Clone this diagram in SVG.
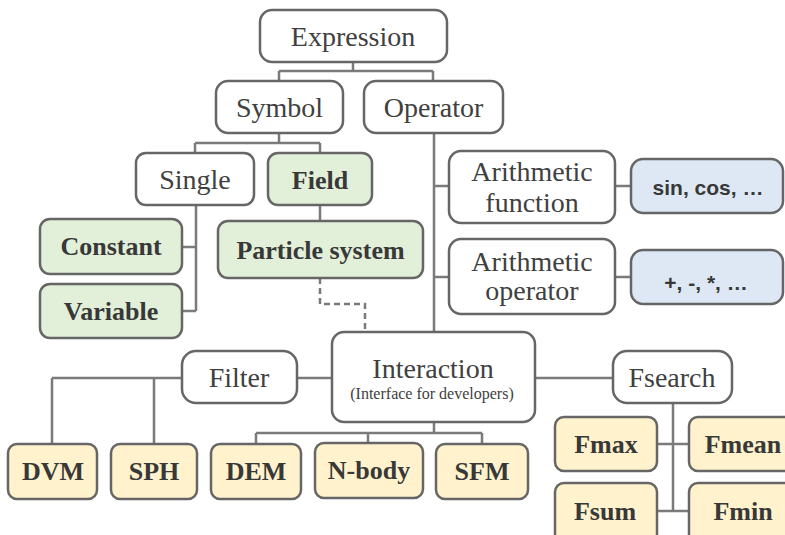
<svg xmlns="http://www.w3.org/2000/svg" width="785" height="535" viewBox="0 0 785 535">
<style>
.box{stroke:#666;stroke-width:2.5;}
.w{fill:#fff;}
.g{fill:#e2efd9;}
.y{fill:#fff2cc;}
.b{fill:#dde8f4;}
.t{font-family:"Liberation Serif","Times New Roman",serif;font-size:28px;fill:#404040;text-anchor:middle;}
.tb{font-family:"Liberation Serif","Times New Roman",serif;font-size:26px;font-weight:bold;fill:#383838;text-anchor:middle;}
.ts{font-family:"Liberation Sans",Arial,sans-serif;font-size:21px;font-weight:bold;fill:#383838;text-anchor:middle;}
.sub{font-family:"Liberation Serif","Times New Roman",serif;font-size:16px;fill:#404040;text-anchor:middle;}
.c{fill:none;stroke:#7a7a7a;stroke-width:2.5;}
.d{fill:none;stroke:#7a7a7a;stroke-width:2.5;stroke-dasharray:6 4;}
</style>
<rect width="785" height="535" fill="#fff"/>
<g id="connectors">
<path class="c" d="M353,62 V71 M279,71 H433 M279,71 V81 M433,71 V81"/>
<path class="c" d="M279,133 V143 M195,143 H320 M195,143 V153 M320,143 V153"/>
<path class="c" d="M196,205 V311 M182,247 H196 M182,311 H196"/>
<path class="c" d="M320,205 V221"/>
<path class="d" d="M320,278 V304 H365 V332"/>
<path class="c" d="M434,133 V332 M434,186 H449 M434,277 H449"/>
<path class="c" d="M615,186 H631 M615,277 H631"/>
<path class="c" d="M297,378 H332 M52,378 H182 M52,378 V444 M154,378 V444"/>
<path class="c" d="M434,422 V433 M256,433 H482 M256,433 V444 M368,433 V443 M482,433 V444"/>
<path class="c" d="M535,378 H613"/>
<path class="c" d="M673,403 V511 M657,444 H689 M657,511 H689"/>
</g>
<g id="expression"><rect class="box w" x="260" y="10" width="187" height="52" rx="12"/><text class="t" x="353" y="46">Expression</text></g>
<g id="symbol"><rect class="box w" x="216" y="81" width="127" height="52" rx="12"/><text class="t" x="279.5" y="117">Symbol</text></g>
<g id="operator"><rect class="box w" x="364" y="81" width="139" height="52" rx="12"/><text class="t" x="433.5" y="117">Operator</text></g>
<g id="single"><rect class="box w" x="136" y="153" width="118" height="52" rx="10"/><text class="t" x="195" y="189">Single</text></g>
<g id="field"><rect class="box g" x="268" y="153" width="104" height="52" rx="10"/><text class="tb" x="320" y="189">Field</text></g>
<g id="constant"><rect class="box g" x="40" y="219" width="142" height="55" rx="10"/><text class="tb" x="111" y="255">Constant</text></g>
<g id="variable"><rect class="box g" x="40" y="284" width="142" height="54" rx="10"/><text class="tb" x="111" y="320">Variable</text></g>
<g id="particle-system"><rect class="box g" x="218" y="221" width="205" height="57" rx="10"/><text class="tb" x="320.5" y="259">Particle system</text></g>
<g id="arith-function"><rect class="box w" x="449" y="151" width="166" height="72" rx="12"/><text class="t" x="532" y="181">Arithmetic</text><text class="t" x="532" y="212">function</text></g>
<g id="sin-cos"><rect class="box b" x="631" y="159" width="152" height="54" rx="12"/><text class="ts" x="708" y="195">sin, cos, …</text></g>
<g id="arith-operator"><rect class="box w" x="449" y="239" width="166" height="75" rx="12"/><text class="t" x="532" y="271">Arithmetic</text><text class="t" x="532" y="300">operator</text></g>
<g id="plus-minus"><rect class="box b" x="631" y="250" width="152" height="54" rx="12"/><text class="ts" x="706" y="290">+, -, *, …</text></g>
<g id="filter"><rect class="box w" x="182" y="351" width="115" height="52" rx="14"/><text class="t" x="239" y="387">Filter</text></g>
<g id="interaction"><rect class="box w" x="332" y="332" width="203" height="90" rx="12"/><text class="t" x="433" y="378">Interaction</text><text class="sub" x="432" y="399">(Interface for developers)</text></g>
<g id="fsearch"><rect class="box w" x="613" y="351" width="119" height="52" rx="14"/><text class="t" x="672" y="387">Fsearch</text></g>
<g id="dvm"><rect class="box y" x="8" y="444" width="89" height="55" rx="9"/><text class="tb" x="53" y="480">DVM</text></g>
<g id="sph"><rect class="box y" x="111" y="444" width="86" height="55" rx="9"/><text class="tb" x="154" y="480">SPH</text></g>
<g id="dem"><rect class="box y" x="211" y="444" width="90" height="55" rx="9"/><text class="tb" x="256" y="480">DEM</text></g>
<g id="n-body"><rect class="box y" x="315" y="443" width="108" height="55" rx="9"/><text class="tb" x="369" y="479">N-body</text></g>
<g id="sfm"><rect class="box y" x="436" y="444" width="92" height="55" rx="9"/><text class="tb" x="482" y="480">SFM</text></g>
<g id="fmax"><rect class="box y" x="555" y="417" width="102" height="54" rx="9"/><text class="tb" x="606" y="453">Fmax</text></g>
<g id="fmean"><rect class="box y" x="689" y="417" width="110" height="54" rx="9"/><text class="tb" x="743" y="453">Fmean</text></g>
<g id="fsum"><rect class="box y" x="555" y="483" width="102" height="70" rx="9"/><text class="tb" x="605" y="520">Fsum</text></g>
<g id="fmin"><rect class="box y" x="689" y="483" width="110" height="70" rx="9"/><text class="tb" x="743" y="520">Fmin</text></g>
</svg>
